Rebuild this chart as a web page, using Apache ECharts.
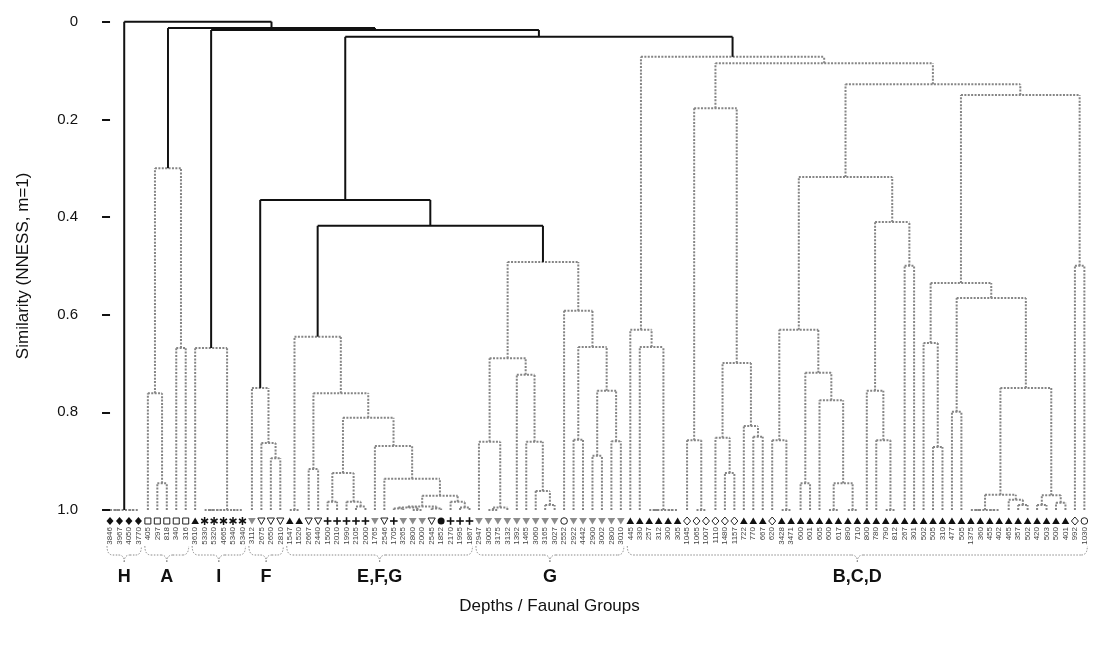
<!DOCTYPE html>
<html>
<head>
<meta charset="utf-8">
<script src="https://cdn.jsdelivr.net/npm/echarts@6/dist/echarts.min.js"></script>
<style>
html, body { margin: 0; padding: 0; background: #fff; }
#chart { width: 1099px; height: 648px; }
</style>
</head>
<body>
<div id="chart"></div>
<script>
// Sample depths (m), in dendrogram leaf order
const depthLabels = ['3846','3967','4050','3770','405','297','818','340','316','3610','5330','5320','4665','5340','5340','3112','2675','2650','2810','1547','1520','2667','2440','1500','2010','1990','2105','2000','1765','2546','1705','3265','2800','2000','2545','1852','2170','1995','1867','2947','3005','3175','3132','1392','1465','3060','3165','3027','2552','2922','4442','2900','3002','2800','3010','445','330','257','312','300','305','1045','1065','1007','1110','1480','1157','722','770','667','620','3428','3471','600','601','605','600','617','890','710','800','780','790','812','267','301','502','505','310','477','505','1375','360','455','402','465','357','502','420','503','500','401','992','1030'];

// Faunal marker per sample: D filled diamond, d open diamond, S open square,
// T filled up-triangle, V grey down-triangle, v open down-triangle,
// X asterisk, P plus, C filled circle, O open circle
const faunaMarkers = ['D','D','D','D','S','S','S','S','S','T','X','X','X','X','X','V','v','v','v',
  'T','T','v','v','P','P','P','P','P','V','v','P','V','V','V','v','C','P','P','P',
  'V','V','V','V','V','V','V','V','V','O','V','V','V','V','V','V',
  'T','T','T','T','T','T','d','d','d','d','d','d','T','T','T','d',
  'T','T','T','T','T','T','T','T','T','T','T','T','T','T','T','T','T','T','T','T','T','T','T','T','T','T','T','T','T','T','T','d','O'];

// Faunal groups: name, first and last leaf
const groupNames = ['H', 'A', 'I', 'F', 'E,F,G', 'G', 'B,C,D'];
const groupFirst = [0, 4, 9, 15, 19, 39, 55];
const groupLast  = [3, 8, 14, 18, 38, 54, 103];

// Clusters inside each group: [left, right, similarity]; numbers are leaves
const treeH = [[0, 1, 1], [2, 3, 1], 1];
const treeA = [[4, [5, 6, 0.945], 0.761], [7, 8, 0.668], 0.300];
const treeI = [9, [[[10, 11, 1], 12, 1], [13, 14, 1], 1], 0.668];
const treeF = [15, [16, [17, 18, 0.894], 0.863], 0.750];
const treeEFG = [[19, 20, 1],
  [[21, 22, 0.916],
   [[[23, 24, 0.983], [25, [26, 27, 0.993], 0.983], 0.924],
    [28, [29, [[[[30, 31, 0.997], [32, 33, 1], 0.995], [34, 35, 0.997], 0.993],
               [36, [37, 38, 0.995], 0.983], 0.971], 0.936], 0.869], 0.811], 0.761], 0.645];
const treeG = [[[39, [[40, 41, 1], 42, 0.995], 0.860],
                [43, [44, [45, [46, 47, 0.990], 0.961], 0.860], 0.723], 0.689],
               [48, [[49, 50, 0.856], [[51, 52, 0.889], [53, 54, 0.859], 0.756], 0.666], 0.592], 0.492];
const treeBCD = [
  [55, [56, [[57, 58, 1], [59, 60, 1], 1], 0.666], 0.631],
  [[[61, [62, 63, 1], 0.857],
    [[64, [65, 66, 0.924], 0.852], [67, [68, 69, 0.850], 0.828], 0.699], 0.177],
   [[[[70, [71, 72, 1], 0.857],
      [[73, 74, 0.945], [75, [[76, 77, 1], [78, 79, 1], 0.945], 0.775], 0.719], 0.631],
     [[80, [81, [82, 83, 1], 0.857], 0.756], [84, 85, 0.500], 0.410], 0.318],
    [[[86, [87, 88, 0.871], 0.658],
      [[89, 90, 0.799],
       [[[[91, 92, 1], [93, 94, 1], 1], [95, [96, 97, 0.990], 0.979], 0.969],
        [[98, 99, 0.990], [100, 101, 0.985], 0.970], 0.750], 0.566], 0.535],
     [102, 103, 0.500], 0.150], 0.128], 0.085], 0.072];

// Joins between the groups
const groupJoins = ['H', ['A', ['I', [['F', ['E,F,G', 'G', 0.418], 0.365], 'B,C,D', 0.031], 0.017], 0.013], 0.0];

const groupTrees = { 'H': treeH, 'A': treeA, 'I': treeI, 'F': treeF, 'E,F,G': treeEFG, 'G': treeG, 'B,C,D': treeBCD };

// Flatten the tree into elbow segments [x1, y1, x2, y2]
const solidSegs = [];
const dottedSegs = [];
function build(node, solid) {
  if (typeof node === 'number') return { x: node, h: 1 };
  if (typeof node === 'string') return build(groupTrees[node], false);
  const a = build(node[0], solid);
  const b = build(node[1], solid);
  const h = node[2];
  const out = solid ? solidSegs : dottedSegs;
  out.push([a.x, h, b.x, h]);
  out.push([a.x, a.h, a.x, h]);
  out.push([b.x, b.h, b.x, h]);
  return { x: (a.x + b.x) / 2, h: h };
}
build(groupJoins, true);

function segmentSeries(data, style) {
  return {
    type: 'custom',
    data: data,
    encode: { x: [0, 2], y: [1, 3] },
    renderItem: function (params, api) {
      const p1 = api.coord([api.value(0), api.value(1)]);
      const p2 = api.coord([api.value(2), api.value(3)]);
      return { type: 'line', shape: { x1: p1[0], y1: p1[1], x2: p2[0], y2: p2[1] }, style: style };
    }
  };
}

function marker(code, cx, cy) {
  const dark = '#111';
  const thin = { stroke: '#222', lineWidth: 1 };
  switch (code) {
    case 'D': return [{ type: 'polygon', shape: { points: [[cx, cy - 4], [cx + 3.5, cy], [cx, cy + 4], [cx - 3.5, cy]] }, style: { fill: dark } }];
    case 'd': return [{ type: 'polygon', shape: { points: [[cx, cy - 4], [cx + 3.5, cy], [cx, cy + 4], [cx - 3.5, cy]] }, style: Object.assign({ fill: '#fff' }, thin) }];
    case 'S': return [{ type: 'rect', shape: { x: cx - 3, y: cy - 3, width: 6, height: 6 }, style: Object.assign({ fill: '#fff' }, thin) }];
    case 'T': return [{ type: 'polygon', shape: { points: [[cx, cy - 3.5], [cx + 3.8, cy + 3], [cx - 3.8, cy + 3]] }, style: { fill: dark } }];
    case 'V': return [{ type: 'polygon', shape: { points: [[cx - 3.8, cy - 3], [cx + 3.8, cy - 3], [cx, cy + 3.5]] }, style: { fill: '#8c8c8c' } }];
    case 'v': return [{ type: 'polygon', shape: { points: [[cx - 3.6, cy - 3], [cx + 3.6, cy - 3], [cx, cy + 3.5]] }, style: Object.assign({ fill: '#fff' }, thin) }];
    case 'C': return [{ type: 'circle', shape: { cx: cx, cy: cy, r: 3.5 }, style: { fill: dark } }];
    case 'O': return [{ type: 'circle', shape: { cx: cx, cy: cy, r: 3.3 }, style: Object.assign({ fill: '#fff' }, thin) }];
    case 'P': return [
      { type: 'line', shape: { x1: cx - 3.8, y1: cy, x2: cx + 3.8, y2: cy }, style: { stroke: dark, lineWidth: 1.6 } },
      { type: 'line', shape: { x1: cx, y1: cy - 3.8, x2: cx, y2: cy + 3.8 }, style: { stroke: dark, lineWidth: 1.6 } }];
    case 'X': {
      const parts = [];
      for (let k = 0; k < 3; k++) {
        const a = Math.PI / 2 + k * Math.PI / 3;
        const dx = 4 * Math.cos(a), dy = 4 * Math.sin(a);
        parts.push({ type: 'line', shape: { x1: cx - dx, y1: cy - dy, x2: cx + dx, y2: cy + dy }, style: { stroke: dark, lineWidth: 1.5 } });
      }
      return parts;
    }
  }
  return [];
}

const leafData = depthLabels.map(function (d, i) { return [i, 1]; });

const chart = echarts.init(document.getElementById('chart'));
const option = {
  animation: false,
  backgroundColor: '#fff',
  textStyle: { fontFamily: 'Liberation Sans, Arial, sans-serif' },
  grid: { left: 105.3, right: 9.9, top: 21.7, bottom: 138 },
  xAxis: { type: 'value', min: -0.5, max: 103.5, show: false },
  yAxis: {
    type: 'value', inverse: true, min: 0, max: 1, interval: 0.2,
    offset: 12.3,
    axisLine: { show: false },
    axisTick: { show: true, length: 8, lineStyle: { color: '#111', width: 2 } },
    splitLine: { show: false },
    axisLabel: {
      margin: 15, fontSize: 15, color: '#111',
      formatter: function (v) { return v === 0 ? '0' : v.toFixed(1); }
    },
    name: 'Similarity (NNESS, m=1)',
    nameLocation: 'middle', nameGap: 61,
    nameTextStyle: { fontSize: 17, color: '#111' }
  },
  series: [
    segmentSeries(dottedSegs, { stroke: '#858585', lineWidth: 2, lineDash: [2, 1.4] }),
    segmentSeries(solidSegs, { stroke: '#111', lineWidth: 2 }),
    {
      type: 'custom',
      data: leafData,
      encode: { x: 0, y: 1 },
      renderItem: function (params, api) {
        const i = api.value(0);
        const p = api.coord([i, 1]);
        const cy = p[1] + 11;
        const kids = marker(faunaMarkers[i], p[0], cy);
        kids.push({
          type: 'text', x: p[0], y: cy + 6, rotation: Math.PI / 2,
          style: { text: depthLabels[i], fontSize: 8, fill: '#444', align: 'right', verticalAlign: 'middle',
                   fontFamily: 'Liberation Sans, Arial, sans-serif' }
        });
        return { type: 'group', children: kids };
      }
    },
    {
      type: 'custom',
      data: groupNames.map(function (g, k) { return [groupFirst[k], groupLast[k], k]; }),
      encode: { x: [0, 1] },
      renderItem: function (params, api) {
        const a = api.coord([api.value(0), 1]);
        const b = api.coord([api.value(1), 1]);
        const k = api.value(2);
        const x1 = a[0] - 3, x2 = b[0] + 3, xm = (x1 + x2) / 2;
        const y0 = 546, y1 = 555, y2 = 562, r = Math.min(6, (x2 - x1) / 6);
        const st = { stroke: '#8a8a8a', lineWidth: 1, lineDash: [1.5, 1.5], fill: null };
        return {
          type: 'group',
          children: [
            { type: 'bezierCurve', shape: { x1: x1, y1: y0, cpx1: x1, cpy1: y1, x2: x1 + r, y2: y1 }, style: st },
            { type: 'line', shape: { x1: x1 + r, y1: y1, x2: xm - r, y2: y1 }, style: st },
            { type: 'bezierCurve', shape: { x1: xm - r, y1: y1, cpx1: xm, cpy1: y1, x2: xm, y2: y2 }, style: st },
            { type: 'bezierCurve', shape: { x1: xm, y1: y2, cpx1: xm, cpy1: y1, x2: xm + r, y2: y1 }, style: st },
            { type: 'line', shape: { x1: xm + r, y1: y1, x2: x2 - r, y2: y1 }, style: st },
            { type: 'bezierCurve', shape: { x1: x2 - r, y1: y1, cpx1: x2, cpy1: y1, x2: x2, y2: y0 }, style: st },
            { type: 'text', x: xm, y: 577,
              style: { text: groupNames[k], fontSize: 18, fontWeight: 'bold', fill: '#111', align: 'center', verticalAlign: 'middle',
                       fontFamily: 'Liberation Sans, Arial, sans-serif' } }
          ]
        };
      }
    }
  ],
  graphic: [{
    type: 'text', left: 'center', top: 598,
    style: { text: 'Depths / Faunal Groups', fontSize: 17, fill: '#111', fontFamily: 'Liberation Sans, Arial, sans-serif' }
  }]
};
chart.setOption(option);
</script>
</body>
</html>
